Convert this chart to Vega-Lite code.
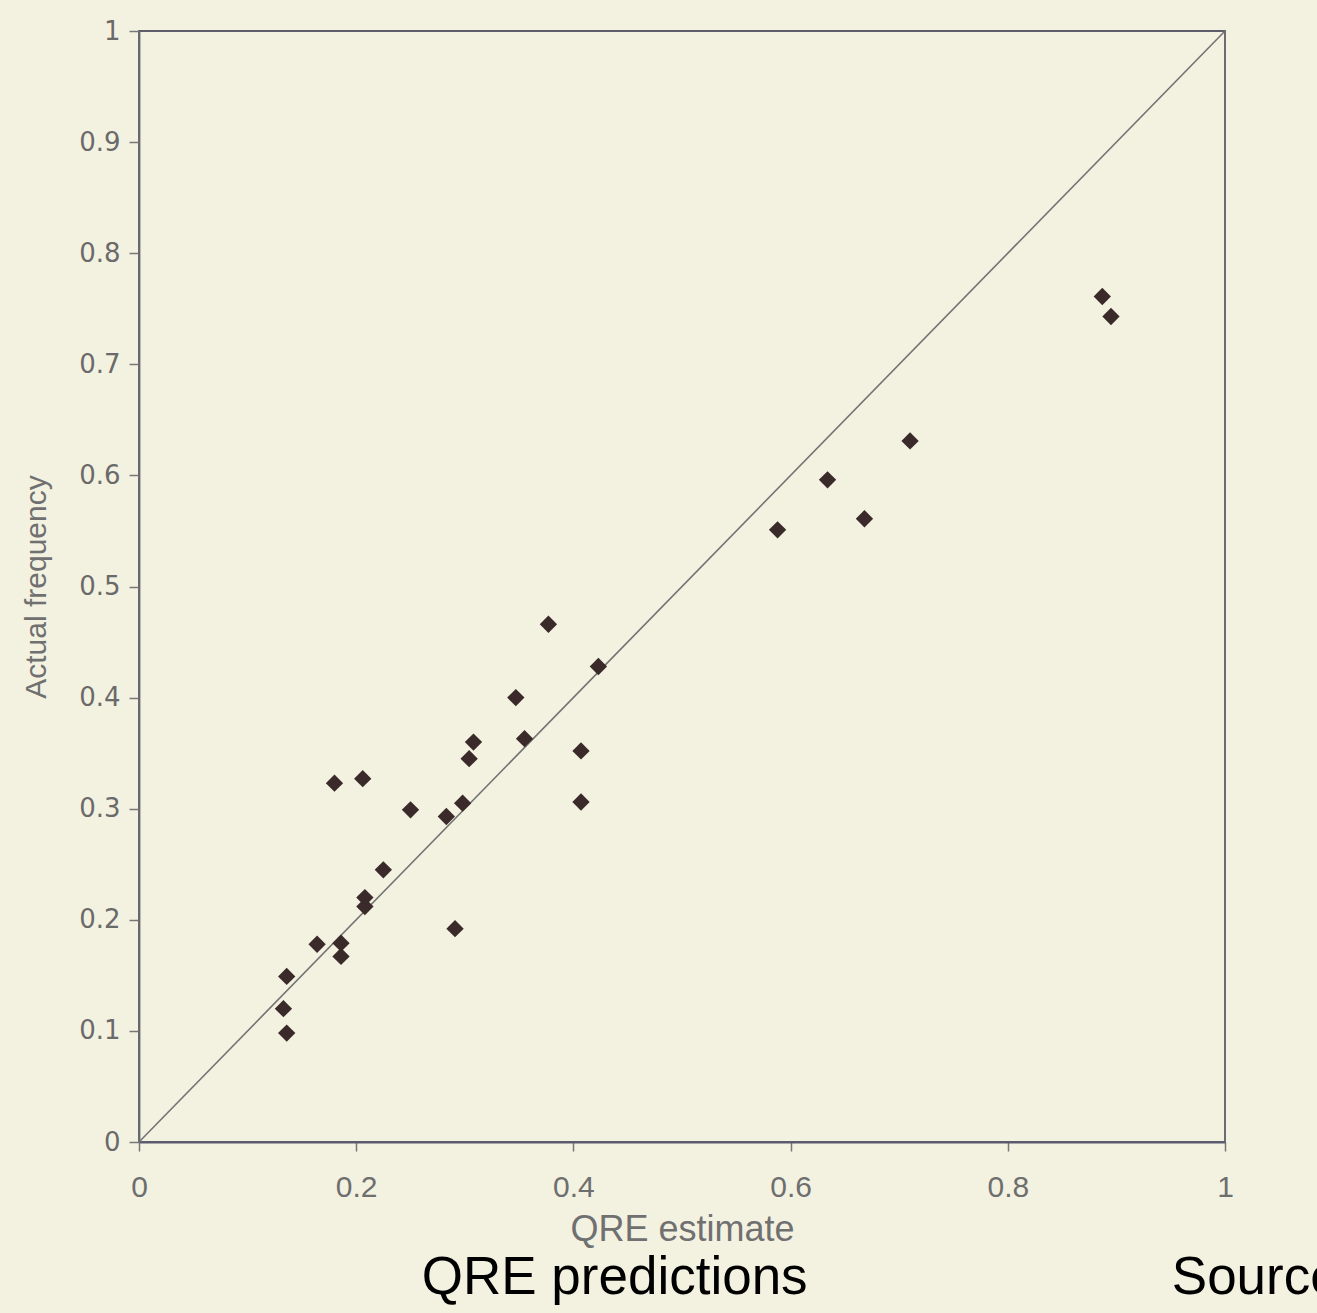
{
  "$schema": "https://vega.github.io/schema/vega-lite/v6.json",
  "width": 1086,
  "height": 1111,
  "autosize": {"type": "none"},
  "padding": {"left": 139, "top": 31, "right": 92, "bottom": 171},
  "background": "#f3f2e1",
  "config": {"view": {"stroke": "#5e5e6a", "strokeWidth": 1.8}},
  "datasets": {
    "points": [
      {"qre": 0.887, "actual": 0.761},
      {"qre": 0.895, "actual": 0.743},
      {"qre": 0.710, "actual": 0.631},
      {"qre": 0.634, "actual": 0.596},
      {"qre": 0.668, "actual": 0.561},
      {"qre": 0.588, "actual": 0.551},
      {"qre": 0.377, "actual": 0.466},
      {"qre": 0.423, "actual": 0.428},
      {"qre": 0.347, "actual": 0.400},
      {"qre": 0.308, "actual": 0.360},
      {"qre": 0.304, "actual": 0.345},
      {"qre": 0.355, "actual": 0.363},
      {"qre": 0.407, "actual": 0.352},
      {"qre": 0.407, "actual": 0.306},
      {"qre": 0.298, "actual": 0.305},
      {"qre": 0.283, "actual": 0.293},
      {"qre": 0.250, "actual": 0.299},
      {"qre": 0.206, "actual": 0.327},
      {"qre": 0.180, "actual": 0.323},
      {"qre": 0.225, "actual": 0.245},
      {"qre": 0.208, "actual": 0.220},
      {"qre": 0.208, "actual": 0.212},
      {"qre": 0.291, "actual": 0.192},
      {"qre": 0.164, "actual": 0.178},
      {"qre": 0.186, "actual": 0.179},
      {"qre": 0.186, "actual": 0.167},
      {"qre": 0.136, "actual": 0.149},
      {"qre": 0.133, "actual": 0.120},
      {"qre": 0.136, "actual": 0.098}
    ],
    "one": [{"k": 1}]
  },
  "layer": [
    {
      "data": {"name": "one"},
      "mark": {"type": "rule", "color": "#737373", "strokeWidth": 1.6},
      "encoding": {
        "x": {"datum": 0, "type": "quantitative", "scale": {"domain": [0, 1], "nice": false, "zero": false}},
        "y": {"datum": 0, "type": "quantitative", "scale": {"domain": [0, 1], "nice": false, "zero": false}},
        "x2": {"datum": 1},
        "y2": {"datum": 1}
      }
    },
    {
      "data": {"name": "points"},
      "mark": {"type": "point", "shape": "diamond", "filled": true, "size": 300, "color": "#3a2a29", "opacity": 1},
      "encoding": {
        "x": {
          "field": "qre", "type": "quantitative",
          "scale": {"domain": [0, 1], "nice": false, "zero": false},
          "axis": {
            "title": "QRE estimate",
            "values": [0, 0.2, 0.4, 0.6, 0.8, 1],
            "format": "~g",
            "grid": false,
            "tickSize": 9, "tickColor": "#777777", "tickWidth": 1.5,
            "domainColor": "#5a5a70", "domainWidth": 1.8,
            "labelFont": "Liberation Sans", "labelFontSize": 30, "labelColor": "#6e6e6e",
            "labelPadding": 21, "labelFlush": false,
            "titleFont": "Liberation Sans", "titleFontSize": 36, "titleFontWeight": "normal",
            "titleColor": "#707070", "titlePadding": 10
          }
        },
        "y": {
          "field": "actual", "type": "quantitative",
          "scale": {"domain": [0, 1], "nice": false, "zero": false},
          "axis": {
            "title": "Actual frequency",
            "values": [0, 0.1, 0.2, 0.3, 0.4, 0.5, 0.6, 0.7, 0.8, 0.9, 1],
            "format": "~g",
            "grid": false,
            "tickSize": 10, "tickColor": "#777777", "tickWidth": 1.5,
            "domainColor": "#66666e", "domainWidth": 1.8,
            "labelFont": "DejaVu Sans", "labelFontSize": 26, "labelColor": "#6a6a6a",
            "labelPadding": 9, "labelFlush": false,
            "titleFont": "Liberation Sans", "titleFontSize": 30, "titleFontWeight": "normal",
            "titleColor": "#707070", "titlePadding": 27
          }
        }
      }
    },
    {
      "data": {"name": "one"},
      "mark": {"type": "text", "font": "Liberation Sans", "fontSize": 53, "color": "#000000", "align": "center", "baseline": "alphabetic"},
      "encoding": {
        "x": {"datum": 0.438, "type": "quantitative", "scale": {"domain": [0, 1], "nice": false, "zero": false}},
        "y": {"datum": -0.137, "type": "quantitative", "scale": {"domain": [0, 1], "nice": false, "zero": false}},
        "text": {"value": "QRE predictions"}
      }
    },
    {
      "data": {"name": "one"},
      "mark": {"type": "text", "font": "Liberation Sans", "fontSize": 53, "color": "#000000", "align": "left", "baseline": "alphabetic"},
      "encoding": {
        "x": {"datum": 0.951, "type": "quantitative", "scale": {"domain": [0, 1], "nice": false, "zero": false}},
        "y": {"datum": -0.137, "type": "quantitative", "scale": {"domain": [0, 1], "nice": false, "zero": false}},
        "text": {"value": "Source"}
      }
    }
  ]
}
